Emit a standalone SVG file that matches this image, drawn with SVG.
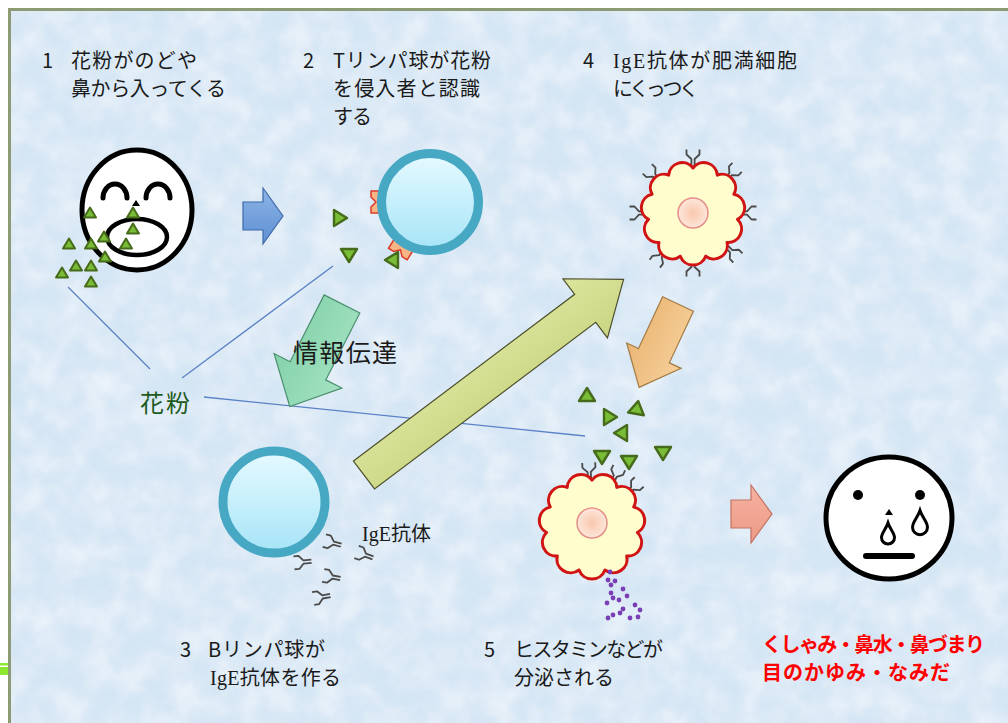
<svg xmlns="http://www.w3.org/2000/svg" width="1008" height="723" viewBox="0 0 1008 723">
<defs>
<style>
.jp{font-family:"Noto Sans CJK JP","Liberation Sans",sans-serif;font-size:20px;fill:#1a1a1a}
.ig{font-family:"Liberation Serif","Noto Sans CJK JP",serif}
.red{fill:#ff0000;font-size:20px;font-weight:700}
.link{stroke:#5a82c6;stroke-width:1.3;fill:none}
.face{fill:#fff;stroke:#000}
.mast{fill:#fffcce;stroke:#d01414;stroke-width:3;stroke-linejoin:round}
.nuc{fill:url(#gNuc);stroke:#e49088;stroke-width:1.5}
.lym{fill:url(#gLym);stroke:#47a8c3;stroke-width:9}
.rec{fill:#f7b585;stroke:#dc3a2a;stroke-width:1.5;stroke-linejoin:round}
.gran{fill:#7b3fb5}
</style>
<filter id="mottle" x="0" y="0" width="100%" height="100%">
  <feTurbulence type="fractalNoise" baseFrequency="0.035" numOctaves="3" seed="7"/>
  <feColorMatrix type="matrix" values="0 0 0 0 1  0 0 0 0 1  0 0 0 0 1  1.4 0 0 0 -0.4"/>
</filter>
<linearGradient id="gLym" x1="0" y1="0" x2="0" y2="1">
  <stop offset="0" stop-color="#e6faff"/><stop offset="1" stop-color="#a6e4f7"/>
</linearGradient>
<radialGradient id="gNuc">
  <stop offset="0" stop-color="#f9c7ad"/><stop offset="1" stop-color="#fde6da"/>
</radialGradient>
<linearGradient id="gBlue" x1="0" y1="0" x2="0" y2="1">
  <stop offset="0" stop-color="#8db5e6"/><stop offset="1" stop-color="#5d8fd2"/>
</linearGradient>
<linearGradient id="gGreen" x1="0" y1="0" x2="0" y2="1">
  <stop offset="0" stop-color="#a3e2c2"/><stop offset="1" stop-color="#84d2aa"/>
</linearGradient>
<linearGradient id="gYel" x1="0" y1="0" x2="0" y2="1">
  <stop offset="0" stop-color="#dce59c"/><stop offset="1" stop-color="#c9d683"/>
</linearGradient>
<linearGradient id="gOra" x1="0" y1="0" x2="0" y2="1">
  <stop offset="0" stop-color="#f6cf98"/><stop offset="1" stop-color="#eab676"/>
</linearGradient>
<linearGradient id="gSal" x1="0" y1="0" x2="0" y2="1">
  <stop offset="0" stop-color="#f6b3a2"/><stop offset="1" stop-color="#ec9984"/>
</linearGradient>
<!-- cloud outline of a mast cell -->
<path id="cloud" d="M0,-45 A13.5,13.5 0 0 1 24.33,-37.86 A13.5,13.5 0 0 1 40.93,-18.69 A13.5,13.5 0 0 1 44.54,6.4 A13.5,13.5 0 0 1 34.01,29.47 A13.5,13.5 0 0 1 12.68,43.18 A13.5,13.5 0 0 1 -12.68,43.18 A13.5,13.5 0 0 1 -34.01,29.47 A13.5,13.5 0 0 1 -44.54,6.4 A13.5,13.5 0 0 1 -40.93,-18.69 A13.5,13.5 0 0 1 -24.33,-37.86 A13.5,13.5 0 0 1 0,-45 Z"/>
<!-- antibody, base at origin, arms pointing up -->
<path id="ab" d="M-1.6,0 V-8 L-6.5,-12.5 V-17.5 M1.6,0 V-8 L6.5,-12.5 V-17.5" fill="none" stroke="#4a4a4a" stroke-width="1.8" stroke-linejoin="round"/>
<!-- pollen grains -->
<polygon id="ps" points="0,-5.5 6,4.5 -6,4.5" fill="#79bd37" stroke="#466b1b" stroke-width="2" stroke-linejoin="round"/>
<polygon id="pl" points="0,-7 8,6 -8,6" fill="#79bd37" stroke="#466b1b" stroke-width="2.4" stroke-linejoin="round"/>
<!-- T cell receptor, cup facing -x -->
<polygon id="rc" points="-6,-11 6,-11 6,11 -6,11 -6,5 -1,0 -6,-5"/>
<path id="drop" d="M0,-10 C2,-4 6.5,0 6.5,4.5 A6.5,6.5 0 0 1 -6.5,4.5 C-6.5,0 -2,-4 0,-10 Z"/>
</defs>

<!-- page and slide frame -->
<rect width="1008" height="723" fill="#ffffff"/>
<rect x="9.5" y="9.5" width="1010" height="720" fill="#d4e5f4"/>
<rect x="9.5" y="9.5" width="1010" height="720" fill="#ffffff" filter="url(#mottle)" opacity="0.6"/>
<rect x="9.5" y="9.5" width="1010" height="720" fill="none" stroke="#8d9b74" stroke-width="3"/>
<rect x="0" y="663" width="8" height="2.5" fill="#8fe830"/>
<rect x="0" y="667" width="8" height="8" fill="#8fe830"/>

<!-- connectors -->
<g id="connectors">
  <line class="link" x1="68" y1="287" x2="150" y2="369"/>
  <line class="link" x1="182" y1="378" x2="333" y2="266"/>
  <line class="link" x1="204" y1="397" x2="585" y2="436"/>
  <polygon points="0,-14 20,-14 20,-28 40,0 20,28 20,14 0,14" transform="translate(243,216)" fill="url(#gBlue)" stroke="#3d69aa" stroke-width="1.2"/>
  <polygon points="0,-20 75,-20 75,-38 115,0 75,38 75,20 0,20" transform="translate(342,304) rotate(117)" fill="url(#gGreen)" stroke="#4b8f6e" stroke-width="1.2"/>
  <polygon points="0,-17.5 277,-17.5 277,-37 325,0 277,37 277,17.5 0,17.5" transform="translate(364,475) rotate(-37)" fill="url(#gYel)" stroke="#4d4f2c" stroke-width="1.2"/>
  <polygon points="0,-17 57,-17 57,-30 92,0 57,30 57,17 0,17" transform="translate(678,304) rotate(115)" fill="url(#gOra)" stroke="#a37a42" stroke-width="1.2"/>
  <polygon points="0,-14 20,-14 20,-29 41,0 20,29 20,14 0,14" transform="translate(731,514)" fill="url(#gSal)" stroke="#c37262" stroke-width="1.2"/>
</g>

<!-- step 1: pollen entering the nose and throat -->
<g id="face-sneeze">
  <ellipse class="face" cx="137" cy="210" rx="55" ry="60" stroke-width="5"/>
  <path d="M103,198 A12,14 0 0 1 127,198 M146,198 A12,14 0 0 1 170,198" fill="none" stroke="#000" stroke-width="5" stroke-linecap="round"/>
  <polygon points="136,200 132,206 140,206" fill="#000"/>
  <ellipse class="face" cx="137" cy="237" rx="30" ry="18" stroke-width="4.5"/>
  <use href="#ps" x="90" y="213"/><use href="#ps" x="133" y="213"/><use href="#ps" x="133" y="229"/>
  <use href="#ps" x="104" y="237"/><use href="#ps" x="69" y="244"/><use href="#ps" x="91" y="244"/>
  <use href="#ps" x="126" y="244"/><use href="#ps" x="105" y="257"/><use href="#ps" x="76" y="266"/>
  <use href="#ps" x="91" y="266"/><use href="#ps" x="62" y="273"/><use href="#ps" x="91" y="282"/>
</g>

<!-- step 2: T lymphocyte -->
<g id="t-cell">
  <use href="#rc" class="rec" transform="translate(377,202)"/>
  <use href="#rc" class="rec" transform="translate(401,249) rotate(-58)"/>
  <circle class="lym" cx="430" cy="202" r="48.5"/>
  <use href="#pl" transform="translate(340,218) rotate(90)"/>
  <use href="#pl" transform="translate(349,255) rotate(180)"/>
  <use href="#pl" transform="translate(392,260) rotate(-90)"/>
</g>

<!-- step 4: mast cell with IgE attached -->
<g id="mast-cell-1">
  <use href="#ab" transform="translate(693,213) rotate(0) translate(0,-46)"/>
  <use href="#ab" transform="translate(693,213) rotate(44) translate(0,-46)"/>
  <use href="#ab" transform="translate(693,213) rotate(90) translate(0,-46)"/>
  <use href="#ab" transform="translate(693,213) rotate(135) translate(0,-46)"/>
  <use href="#ab" transform="translate(693,213) rotate(180) translate(0,-46)"/>
  <use href="#ab" transform="translate(693,213) rotate(217) translate(0,-46)"/>
  <use href="#ab" transform="translate(693,213) rotate(270) translate(0,-46)"/>
  <use href="#ab" transform="translate(693,213) rotate(314) translate(0,-46)"/>
  <use href="#cloud" class="mast" transform="translate(693,213)"/>
  <circle class="nuc" cx="693" cy="213" r="15"/>
</g>

<!-- step 3: B lymphocyte releasing IgE -->
<g id="b-cell">
  <circle class="lym" cx="274" cy="502" r="51"/>
  <use href="#ab" transform="translate(333,543) rotate(-75) translate(0,8.5)"/>
  <use href="#ab" transform="translate(303,562) rotate(-95) translate(0,8.5)"/>
  <use href="#ab" transform="translate(332,577) rotate(-80) translate(0,8.5)"/>
  <use href="#ab" transform="translate(322,597) rotate(-100) translate(0,8.5)"/>
  <use href="#ab" transform="translate(365,555) rotate(-70) translate(0,8.5)"/>
</g>

<!-- step 5: mast cell releasing histamine -->
<g id="mast-cell-2">
  <use href="#ab" transform="translate(592,526) rotate(-3) translate(0,-46)"/>
  <use href="#ab" transform="translate(592,526) rotate(25) translate(0,-47)"/>
  <use href="#ab" transform="translate(592,526) rotate(47) translate(0,-47)"/>
  <use href="#cloud" class="mast" transform="translate(592,526) scale(1.02)"/>
  <circle class="nuc" cx="592" cy="523" r="15"/>
  <use href="#pl" transform="translate(587,395)"/>
  <use href="#pl" transform="translate(637,408) rotate(10)"/>
  <use href="#pl" transform="translate(610,417) rotate(90)"/>
  <use href="#pl" transform="translate(621,433) rotate(-90)"/>
  <use href="#pl" transform="translate(602,457) rotate(180)"/>
  <use href="#pl" transform="translate(629,462) rotate(180)"/>
  <use href="#pl" transform="translate(663,453) rotate(180)"/>
  <g class="gran">
    <circle cx="610" cy="572" r="2.4"/><circle cx="608" cy="580" r="2.4"/><circle cx="615" cy="581" r="2.4"/>
    <circle cx="611" cy="585" r="2.4"/><circle cx="611" cy="593" r="2.4"/><circle cx="623" cy="589" r="2.4"/>
    <circle cx="627" cy="596" r="2.4"/><circle cx="619" cy="600" r="2.4"/><circle cx="607" cy="603" r="2.4"/>
    <circle cx="613" cy="598" r="2.4"/><circle cx="623" cy="609" r="2.4"/><circle cx="635" cy="605" r="2.4"/>
    <circle cx="640" cy="610" r="2.4"/><circle cx="613" cy="615" r="2.4"/><circle cx="620" cy="613" r="2.4"/>
    <circle cx="608" cy="618" r="2.4"/><circle cx="630" cy="618" r="2.4"/><circle cx="638" cy="617" r="2.4"/>
  </g>
</g>

<!-- symptoms face -->
<g id="face-tears">
  <ellipse class="face" cx="889" cy="518" rx="63" ry="61" stroke-width="5"/>
  <circle cx="858" cy="495" r="5" fill="#000"/>
  <circle cx="920" cy="495" r="5" fill="#000"/>
  <polygon points="889,509 885,515 893,515" fill="#000"/>
  <use href="#drop" transform="translate(888,533)" fill="#fff" stroke="#000" stroke-width="3"/>
  <use href="#drop" transform="translate(920,522) scale(1.15)" fill="#fff" stroke="#000" stroke-width="2.6"/>
  <line x1="866" y1="556" x2="912" y2="556" stroke="#000" stroke-width="6" stroke-linecap="round"/>
</g>

<!-- labels -->
<g id="labels">
  <text class="jp" x="42" y="68">1</text>
  <text class="jp" x="71" y="68" textLength="126" lengthAdjust="spacing">花粉がのどや</text>
  <text class="jp" x="71" y="96" textLength="155" lengthAdjust="spacing">鼻から入ってくる</text>
  <text class="jp" x="303" y="68">2</text>
  <text class="jp" x="333" y="68" textLength="158" lengthAdjust="spacing">Tリンパ球が花粉</text>
  <text class="jp" x="333" y="96" textLength="147" lengthAdjust="spacing">を侵入者と認識</text>
  <text class="jp" x="333" y="124" textLength="39" lengthAdjust="spacing">する</text>
  <text class="jp" x="583" y="68">4</text>
  <text class="jp" x="613" y="68" textLength="184" lengthAdjust="spacing"><tspan class="ig">IgE</tspan>抗体が肥満細胞</text>
  <text class="jp" x="613" y="96" textLength="86" lengthAdjust="spacing">にくっつく</text>
  <text class="jp" x="293" y="362" style="font-size:25px" textLength="104" lengthAdjust="spacing">情報伝達</text>
  <text class="jp" x="140" y="412" style="font-size:24px;fill:#1e5a1e" textLength="50" lengthAdjust="spacing">花粉</text>
  <text class="jp ig" x="362" y="541" style="font-size:20px">IgE抗体</text>
  <text class="jp" x="180" y="657">3</text>
  <text class="jp" x="208" y="657" textLength="117" lengthAdjust="spacing">Bリンパ球が</text>
  <text class="jp" x="210" y="685" textLength="131" lengthAdjust="spacing"><tspan class="ig">IgE</tspan>抗体を作る</text>
  <text class="jp" x="484" y="657">5</text>
  <text class="jp" x="514" y="657" textLength="149" lengthAdjust="spacing">ヒスタミンなどが</text>
  <text class="jp" x="514" y="685" textLength="100" lengthAdjust="spacing">分泌される</text>
  <text class="jp red" x="762" y="652" textLength="223" lengthAdjust="spacing">くしゃみ・鼻水・鼻づまり</text>
  <text class="jp red" x="762" y="680" textLength="188" lengthAdjust="spacing">目のかゆみ・なみだ</text>
</g>
</svg>
